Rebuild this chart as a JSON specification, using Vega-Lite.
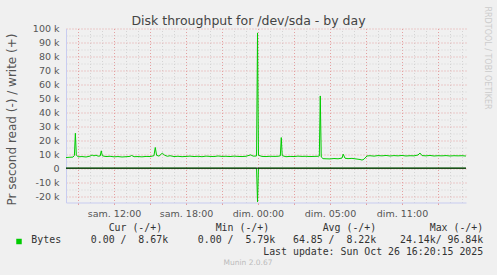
{
  "$schema": "https://vega.github.io/schema/vega-lite/v6.json",
  "width": 400,
  "height": 174,
  "autosize": "none",
  "padding": {"left": 66, "top": 28.5, "right": 31, "bottom": 72.5},
  "background": "#f0f0f0",
  "title": {"text": "Munin 2.0.67", "orient": "bottom", "anchor": "middle", "frame": "group", "dx": -18, "offset": 2, "fontSize": 7.5, "font": "DejaVu Sans", "fontWeight": "normal", "color": "#bbbbbb"},
  "datasets": {
    "write": [
      {"t": 8.00, "bytes": 7600}, {"t": 8.33, "bytes": 7800}, {"t": 8.58, "bytes": 7900}, {"t": 8.70, "bytes": 9000},
      {"t": 8.78, "bytes": 25000}, {"t": 8.86, "bytes": 9500}, {"t": 9.00, "bytes": 8100}, {"t": 9.33, "bytes": 8300},
      {"t": 9.67, "bytes": 8000}, {"t": 10.00, "bytes": 8600}, {"t": 10.17, "bytes": 9400}, {"t": 10.33, "bytes": 8800},
      {"t": 10.50, "bytes": 9300}, {"t": 10.67, "bytes": 8600}, {"t": 10.85, "bytes": 8700}, {"t": 10.94, "bytes": 12400},
      {"t": 11.03, "bytes": 8800}, {"t": 11.33, "bytes": 8300}, {"t": 11.67, "bytes": 8500}, {"t": 12.00, "bytes": 8100},
      {"t": 12.33, "bytes": 8300}, {"t": 12.67, "bytes": 8000}, {"t": 13.00, "bytes": 8200}, {"t": 13.33, "bytes": 8400},
      {"t": 13.47, "bytes": 9100}, {"t": 13.67, "bytes": 8200}, {"t": 14.00, "bytes": 8300}, {"t": 14.33, "bytes": 8100},
      {"t": 14.67, "bytes": 8400}, {"t": 15.00, "bytes": 8300}, {"t": 15.33, "bytes": 8900}, {"t": 15.44, "bytes": 14800},
      {"t": 15.55, "bytes": 9200}, {"t": 15.75, "bytes": 8600}, {"t": 16.03, "bytes": 10800}, {"t": 16.20, "bytes": 9300},
      {"t": 16.45, "bytes": 8500}, {"t": 16.67, "bytes": 8900}, {"t": 17.00, "bytes": 8300}, {"t": 17.33, "bytes": 8500},
      {"t": 17.67, "bytes": 8200}, {"t": 18.00, "bytes": 8400}, {"t": 18.33, "bytes": 8600}, {"t": 18.67, "bytes": 8300},
      {"t": 19.00, "bytes": 8500}, {"t": 19.33, "bytes": 8200}, {"t": 19.67, "bytes": 8600}, {"t": 20.00, "bytes": 8400},
      {"t": 20.33, "bytes": 8300}, {"t": 20.67, "bytes": 8700}, {"t": 21.00, "bytes": 8400}, {"t": 21.33, "bytes": 8500},
      {"t": 21.67, "bytes": 8300}, {"t": 22.00, "bytes": 8600}, {"t": 22.33, "bytes": 8400}, {"t": 22.67, "bytes": 8300},
      {"t": 23.00, "bytes": 8500}, {"t": 23.39, "bytes": 9500}, {"t": 23.60, "bytes": 8600}, {"t": 23.88, "bytes": 8700},
      {"t": 23.96, "bytes": 96840}, {"t": 24.04, "bytes": 9200}, {"t": 24.33, "bytes": 8400}, {"t": 24.67, "bytes": 8300},
      {"t": 25.00, "bytes": 8500}, {"t": 25.33, "bytes": 8400}, {"t": 25.67, "bytes": 8500}, {"t": 25.86, "bytes": 8800},
      {"t": 25.94, "bytes": 21900}, {"t": 26.02, "bytes": 8900}, {"t": 26.33, "bytes": 8200}, {"t": 26.67, "bytes": 8400},
      {"t": 27.00, "bytes": 8300}, {"t": 27.33, "bytes": 8600}, {"t": 27.67, "bytes": 8400}, {"t": 28.00, "bytes": 8500},
      {"t": 28.33, "bytes": 8300}, {"t": 28.67, "bytes": 8400}, {"t": 29.00, "bytes": 8500}, {"t": 29.11, "bytes": 8700},
      {"t": 29.19, "bytes": 51700}, {"t": 29.27, "bytes": 8000}, {"t": 29.42, "bytes": 6800}, {"t": 29.67, "bytes": 6700},
      {"t": 30.00, "bytes": 6600}, {"t": 30.33, "bytes": 6900}, {"t": 30.67, "bytes": 6700}, {"t": 31.00, "bytes": 7200},
      {"t": 31.10, "bytes": 10000}, {"t": 31.25, "bytes": 7100}, {"t": 31.50, "bytes": 6800}, {"t": 31.83, "bytes": 7000},
      {"t": 32.17, "bytes": 6600}, {"t": 32.50, "bytes": 6200}, {"t": 32.67, "bytes": 5790}, {"t": 32.83, "bytes": 6400},
      {"t": 33.08, "bytes": 8700}, {"t": 33.33, "bytes": 8900}, {"t": 33.67, "bytes": 8600}, {"t": 34.00, "bytes": 9000},
      {"t": 34.33, "bytes": 8800}, {"t": 34.67, "bytes": 9100}, {"t": 35.00, "bytes": 8700}, {"t": 35.33, "bytes": 9000},
      {"t": 35.67, "bytes": 8800}, {"t": 36.00, "bytes": 9100}, {"t": 36.33, "bytes": 8700}, {"t": 36.67, "bytes": 8900},
      {"t": 37.00, "bytes": 8800}, {"t": 37.33, "bytes": 9400}, {"t": 37.50, "bytes": 10800}, {"t": 37.67, "bytes": 9000},
      {"t": 38.00, "bytes": 8800}, {"t": 38.33, "bytes": 9100}, {"t": 38.67, "bytes": 8700}, {"t": 39.00, "bytes": 8900},
      {"t": 39.33, "bytes": 8800}, {"t": 39.67, "bytes": 9000}, {"t": 40.00, "bytes": 8700}, {"t": 40.33, "bytes": 8900},
      {"t": 40.67, "bytes": 8800}, {"t": 41.00, "bytes": 8900}, {"t": 41.33, "bytes": 8670}
    ],
    "read": [
      {"t": 8.00, "bytes": 0}, {"t": 23.88, "bytes": 0}, {"t": 23.96, "bytes": -24140}, {"t": 24.04, "bytes": 0}, {"t": 41.33, "bytes": 0}
    ]
  },
  "layer": [
    {
      "data": {"name": "write"},
      "mark": {"type": "line", "color": "#00cc00", "strokeWidth": 1},
      "encoding": {
        "x": {
          "field": "t", "type": "quantitative",
          "scale": {"domain": [8, 41.3333], "nice": false, "zero": false},
          "axis": {
            "orient": "bottom",
            "values": [9, 12, 15, 18, 21, 24, 27, 30, 33, 36, 39],
            "labelExpr": "datum.value == 12 ? 'sam. 12:00' : datum.value == 18 ? 'sam. 18:00' : datum.value == 24 ? 'dim. 00:00' : datum.value == 30 ? 'dim. 05:00' : datum.value == 36 ? 'dim. 11:00' : ''",
            "grid": true, "gridColor": "#e4a0a0", "gridDash": [1, 2], "gridWidth": 1,
            "ticks": true, "tickColor": "#e4a0a0", "tickSize": 2,
            "domain": true, "domainColor": "#c8ccf0",
            "labelFont": "DejaVu Sans", "labelFontSize": 9.5, "labelColor": "#555555", "labelPadding": 4,
            "labelFlush": false, "labelOverlap": false, "labelBound": false,
            "title": [
              "Cur\u00a0(-/+)\u00a0\u00a0\u00a0\u00a0\u00a0\u00a0\u00a0\u00a0\u00a0Min\u00a0(-/+)\u00a0\u00a0\u00a0\u00a0\u00a0\u00a0\u00a0\u00a0\u00a0Avg\u00a0(-/+)\u00a0\u00a0\u00a0\u00a0\u00a0\u00a0\u00a0\u00a0\u00a0Max\u00a0(-/+)\u00a0",
              "Bytes\u00a0\u00a0\u00a0\u00a0\u00a00.00\u00a0/\u00a0\u00a08.67k\u00a0\u00a0\u00a0\u00a0\u00a00.00\u00a0/\u00a0\u00a05.79k\u00a0\u00a0\u00a064.85\u00a0/\u00a0\u00a08.22k\u00a0\u00a0\u00a0\u00a024.14k/\u00a096.84k",
              "Last\u00a0update:\u00a0Sun\u00a0Oct\u00a026\u00a016:20:15\u00a02025"
            ],
            "titleFont": "DejaVu Sans Mono", "titleFontSize": 9.9, "titleFontWeight": "normal", "titleColor": "#333333",
            "titleAlign": "right", "titleX": 416.7, "titleY": 27.8, "titleBaseline": "alphabetic", "titleLineHeight": 12.2, "titleAngle": 0
          }
        },
        "y": {
          "field": "bytes", "type": "quantitative",
          "scale": {"domain": [-24600, 100000], "nice": false, "zero": false},
          "axis": {
            "orient": "left",
            "values": [-20000, -10000, 0, 10000, 20000, 30000, 40000, 50000, 60000, 70000, 80000, 90000, 100000],
            "labelExpr": "datum.value == 0 ? '0' : (datum.value / 1000) + ' k'",
            "grid": true, "gridColor": "#e4a0a0", "gridDash": [1, 2], "gridWidth": 1,
            "ticks": false, "domain": true, "domainColor": "#c8ccf0",
            "labelFont": "DejaVu Sans", "labelFontSize": 9.5, "labelColor": "#555555", "labelPadding": 7, "labelBaseline": "middle",
            "labelFlush": false, "labelOverlap": false, "labelBound": false,
            "title": "Pr second read (-) / write (+)",
            "titleFont": "DejaVu Sans", "titleFontSize": 12, "titleFontWeight": "normal", "titleColor": "#555555",
            "titleAngle": 270, "titleX": -55, "titleY": 90.5, "titleAlign": "center", "titleBaseline": "middle"
          }
        }
      }
    },
    {
      "data": {"name": "read"},
      "mark": {"type": "line", "color": "#00cc00", "strokeWidth": 1},
      "encoding": {
        "x": {
          "field": "t", "type": "quantitative",
          "axis": {
            "orient": "top",
            "values": [10, 11, 13, 14, 16, 17, 19, 20, 22, 23, 25, 26, 28, 29, 31, 32, 34, 35, 37, 38, 40, 41],
            "grid": true, "gridColor": "#d4d4d4", "gridDash": [1, 2], "gridWidth": 1,
            "ticks": false, "labels": false, "domain": false,
            "title": "Disk throughput for /dev/sda - by day",
            "titleFont": "DejaVu Sans", "titleFontSize": 12.5, "titleFontWeight": "normal", "titleColor": "#444444",
            "titleX": 182, "titleY": -4.2, "titleAlign": "center", "titleBaseline": "alphabetic", "titleAngle": 0
          }
        },
        "y": {
          "field": "bytes", "type": "quantitative",
          "axis": {
            "orient": "right",
            "values": [-15000, -5000, 5000, 15000, 25000, 35000, 45000, 55000, 65000, 75000, 85000, 95000],
            "grid": true, "gridColor": "#d4d4d4", "gridDash": [1, 2], "gridWidth": 1,
            "ticks": false, "labels": false, "domain": false,
            "title": "RRDTOOL / TOBI OETIKER",
            "titleFont": "DejaVu Sans", "titleFontSize": 8, "titleFontWeight": "normal", "titleColor": "#cccccc",
            "titleAngle": 90, "titleX": 20, "titleY": 29, "titleAlign": "center", "titleBaseline": "middle"
          }
        }
      }
    },
    {
      "data": {"values": [{}]},
      "mark": {"type": "rule", "color": "#000000", "strokeWidth": 1},
      "encoding": {"y": {"datum": 0, "axis": null}}
    },
    {
      "data": {"values": []},
      "mark": {"type": "square", "filled": true, "opacity": 1},
      "encoding": {
        "color": {
          "datum": "Bytes",
          "scale": {"range": ["#00cc00"]},
          "legend": {
            "orient": "none", "legendX": -52, "legendY": 208, "title": null, "labelExpr": "''",
            "symbolType": "square", "symbolSize": 30, "padding": 0, "symbolStrokeWidth": 0, "symbolOpacity": 1
          }
        }
      }
    }
  ],
  "resolve": {"axis": {"x": "independent", "y": "independent"}},
  "config": {"view": {"stroke": null, "fill": "white"}}
}
